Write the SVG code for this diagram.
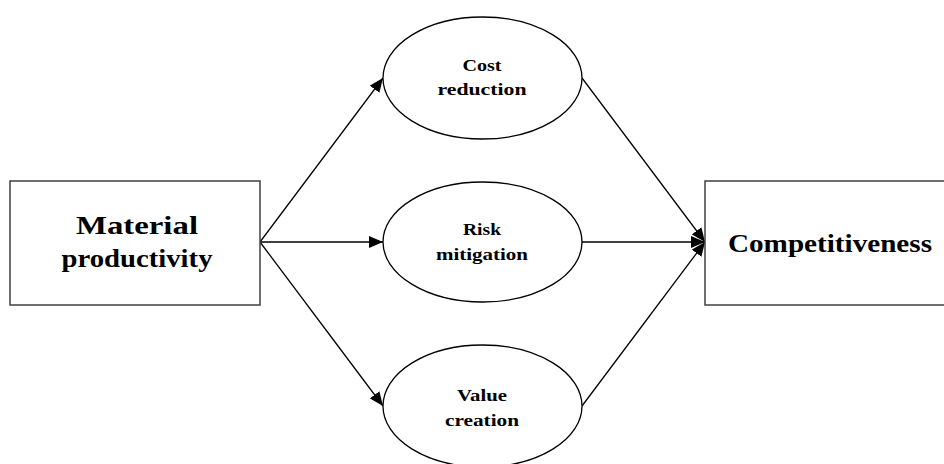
<svg xmlns="http://www.w3.org/2000/svg" width="944" height="464" viewBox="0 0 944 464">
<style>
.box{fill:#fff;stroke:#404040;stroke-width:1.5}
.ell{fill:#fff;stroke:#000;stroke-width:1.3}
.big{font-family:"Liberation Serif",serif;font-weight:bold;font-size:26px;fill:#000;text-anchor:middle}
.sm{font-family:"Liberation Serif",serif;font-weight:bold;font-size:17px;fill:#000;text-anchor:middle}
.con{stroke:#000;stroke-width:1.3;fill:none;marker-end:url(#ah)}
</style>
<defs>
<marker id="ah" markerUnits="userSpaceOnUse" markerWidth="14" markerHeight="12" refX="14" refY="6" orient="auto">
<path d="M0,0 L14,6 L0,12 Z" fill="#000"/>
</marker>
</defs>
<rect width="944" height="464" fill="#fff"/>
<g id="connectors">
<line class="con" x1="260" y1="242" x2="383" y2="78"/>
<line class="con" x1="260" y1="242" x2="383" y2="242"/>
<line class="con" x1="260" y1="242" x2="383" y2="406"/>
<line class="con" x1="582" y1="78" x2="705" y2="242"/>
<line class="con" x1="582" y1="242" x2="705" y2="242"/>
<line class="con" x1="582" y1="406" x2="705" y2="242"/>
</g>
<g id="material">
<rect class="box" x="10" y="181" width="250" height="124"/>
<text class="big" x="137" y="234" textLength="122" lengthAdjust="spacingAndGlyphs">Material</text>
<text class="big" x="137" y="267" textLength="151" lengthAdjust="spacingAndGlyphs">productivity</text>
</g>
<g id="competitiveness">
<rect class="box" x="705" y="181" width="245" height="124"/>
<text class="big" x="830" y="252" textLength="204" lengthAdjust="spacingAndGlyphs">Competitiveness</text>
</g>
<g id="cost">
<ellipse class="ell" cx="482.5" cy="78" rx="99.5" ry="61"/>
<text class="sm" x="482" y="71" textLength="39" lengthAdjust="spacingAndGlyphs">Cost</text>
<text class="sm" x="482" y="95" textLength="89" lengthAdjust="spacingAndGlyphs">reduction</text>
</g>
<g id="risk">
<ellipse class="ell" cx="482.5" cy="242" rx="99.5" ry="60"/>
<text class="sm" x="482" y="235" textLength="38" lengthAdjust="spacingAndGlyphs">Risk</text>
<text class="sm" x="482" y="260" textLength="92" lengthAdjust="spacingAndGlyphs">mitigation</text>
</g>
<g id="value">
<ellipse class="ell" cx="482.5" cy="406" rx="99.5" ry="61"/>
<text class="sm" x="482" y="401" textLength="50" lengthAdjust="spacingAndGlyphs">Value</text>
<text class="sm" x="482" y="426" textLength="74" lengthAdjust="spacingAndGlyphs">creation</text>
</g>
</svg>
